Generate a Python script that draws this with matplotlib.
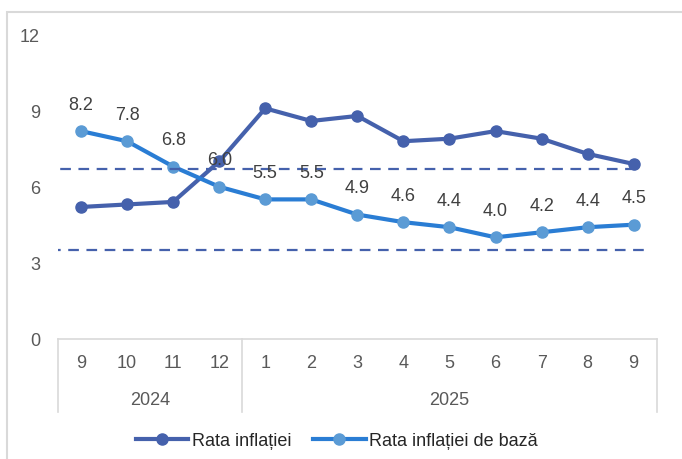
import matplotlib
matplotlib.use("Agg")
import matplotlib.pyplot as plt
from matplotlib.patches import Rectangle
from matplotlib.transforms import ScaledTranslation
from matplotlib import font_manager

# data
months = ["9", "10", "11", "12", "1", "2", "3", "4", "5", "6", "7", "8", "9"]
years = ["2024", "2025"]
year_counts = [4, 9]
inflation = [5.2, 5.3, 5.4, 7.0, 9.1, 8.6, 8.8, 7.8, 7.9, 8.2, 7.9, 7.3, 6.9]
core = [8.2, 7.8, 6.8, 6.0, 5.5, 5.5, 4.9, 4.6, 4.4, 4.0, 4.2, 4.4, 4.5]
band = [6.7, 3.5]
y_ticks = [0, 3, 6, 9, 12]

names = {f.name for f in font_manager.fontManager.ttflist}
fam = [f for f in ["Liberation Sans Narrow", "Liberation Sans", "DejaVu Sans"] if f in names]
plt.rcParams["font.family"] = fam
fs = 13
txt = "#595959"

fig = plt.figure(figsize=(6.82, 4.6), dpi=100)
ax = fig.add_axes([58 / 682, 1 - 339.5 / 460, (656.7 - 58) / 682, (339.5 - 36) / 460])

x = list(range(len(months)))
dark = "#4561AC"
ax.plot(x, inflation, color=dark, lw=3.0, marker="o", ms=8, mfc=dark, mec=dark,
        label="Rata inflației", zorder=3)
ax.plot(x, core, color="#2A7DD4", lw=3.0, marker="o", ms=8, mfc="#5B9BD5", mec="#5B9BD5",
        label="Rata inflației de bază", zorder=4)

# target band, dashed
dash = (0, (4.8, 3.4))
ax.hlines(band[0], -0.85, len(x) - 0.85, colors=dark, linestyles=dash, lw=1.6, zorder=5)
ax.hlines(band[1], -0.68, len(x) - 0.73, colors=dark, linestyles=dash, lw=1.6, zorder=5)

for i, v in enumerate(core):
    ax.annotate(f"{v:.1f}", (i, v), xytext=(0, 19.5), textcoords="offset points",
                ha="center", va="center", fontsize=fs, color="#404040", zorder=6)

ax.set_xlim(-0.5, len(x) - 0.5)
ax.set_ylim(0, 12)
ax.set_yticks(y_ticks)
ax.set_yticklabels([str(t) for t in y_ticks], fontsize=fs, color=txt)
ax.tick_params(axis="y", length=0, pad=13)
ax.set_xticks([])
for s in ["top", "right", "left"]:
    ax.spines[s].set_visible(False)
ax.spines["bottom"].set_color("#D9D9D9")
ax.spines["bottom"].set_linewidth(1.2)

# two level category axis
xt = ax.get_xaxis_transform()
for i, m in enumerate(months):
    ax.text(i, 0, m, transform=xt + ScaledTranslation(0, -17.6 / 72, fig.dpi_scale_trans),
            ha="center", va="center", fontsize=fs, color=txt)
start = -0.5
bounds = [start]
for yr, n in zip(years, year_counts):
    ax.text(start + n / 2, 0, yr, transform=xt + ScaledTranslation(0, -43.6 / 72, fig.dpi_scale_trans),
            ha="center", va="center", fontsize=fs, color=txt)
    start += n
    bounds.append(start)
for b in bounds:
    ax.plot([b, b], [0, -73 / 303.5], transform=xt, color="#D9D9D9", lw=1.2, clip_on=False)

# outer chart border
fig.patches.append(Rectangle((7.3 / 682, -0.1), 1.1, 1 - 13 / 460 + 0.1, transform=fig.transFigure,
                             fill=False, ec="#D9D9D9", lw=1.5))

fig.legend(loc="center", bbox_to_anchor=(337 / 682, 18 / 460), ncol=2, frameon=False,
           fontsize=fs, handlelength=2.9, handletextpad=0.2, columnspacing=1.2,
           labelcolor="#262626")

fig.savefig("out.png", dpi=100)
